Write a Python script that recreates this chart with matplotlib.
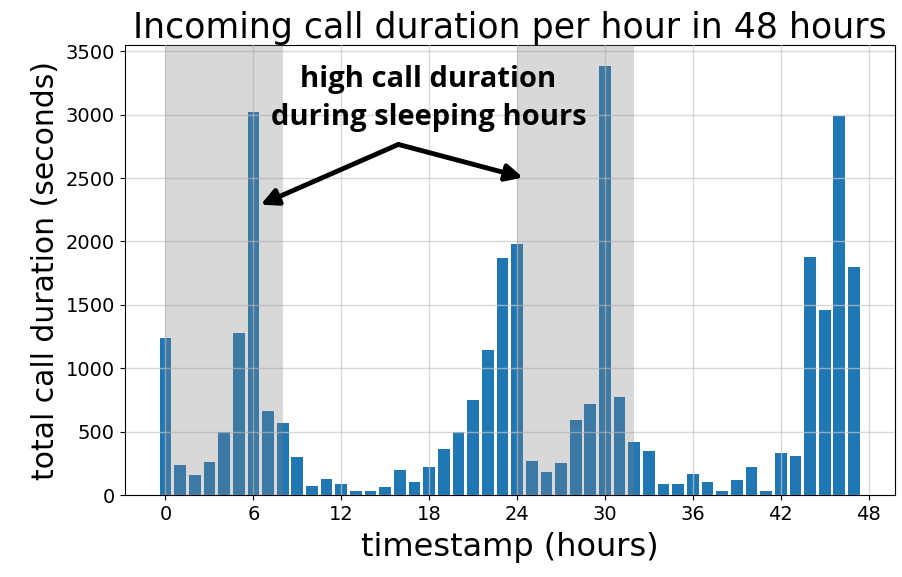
import matplotlib
matplotlib.use("Agg")
import matplotlib.pyplot as plt
import numpy as np

hours = list(range(48))
durations = [1240, 240, 160, 260, 500, 1280, 3020, 660, 570, 300,
             70, 130, 90, 30, 30, 60, 200, 100, 220, 360,
             500, 750, 1140, 1870, 1980, 270, 180, 250, 590, 720,
             3380, 770, 420, 350, 90, 90, 170, 100, 30, 120,
             220, 30, 330, 310, 1880, 1460, 2990, 1800]
sleep_spans = [(0, 8), (24, 32)]
xticks = [0, 6, 12, 18, 24, 30, 36, 42, 48]
yticks = [0, 500, 1000, 1500, 2000, 2500, 3000, 3500]

plt.rcParams['font.family'] = ['DejaVu Sans']

fig = plt.figure(figsize=(9.03, 5.77), dpi=100)
ax = fig.add_axes([0.138, 0.142, 0.853, 0.78])

ax.bar(hours, durations, color="#1f77b4", width=0.8, zorder=2)
for a, b in sleep_spans:
    ax.axvspan(a, b, color="#808080", alpha=0.3, lw=0, zorder=3)
ax.grid(True, color="#c8c8c8", lw=1, alpha=0.7, zorder=4)
ax.set_axisbelow(False)

ax.set_xticks(xticks)
ax.set_yticks(yticks)
ax.tick_params(labelsize=14)
ax.set_title("Incoming call duration per hour in 48 hours", fontsize=25, pad=5)
ax.set_xlabel("timestamp (hours)", fontsize=23, labelpad=6)
ax.set_ylabel("total call duration (seconds)", fontsize=21.5)

ax.text(17.95, 3128, "high call duration\nduring sleeping hours", ha="center", va="center",
        fontsize=21, fontweight="bold", family="Open Sans", linespacing=1.38, zorder=6)
ax.annotate("", xy=(6.5, 2290), xytext=(15.9, 2765),
            arrowprops=dict(arrowstyle="-|>,head_width=0.5,head_length=1.0", lw=3.5, color="black",
                            shrinkA=0, shrinkB=0), zorder=6)
ax.annotate("", xy=(24.4, 2504), xytext=(15.9, 2765),
            arrowprops=dict(arrowstyle="-|>,head_width=0.5,head_length=1.0", lw=3.5, color="black",
                            shrinkA=0, shrinkB=0), zorder=6)

fig.savefig("out.png", dpi=100)
